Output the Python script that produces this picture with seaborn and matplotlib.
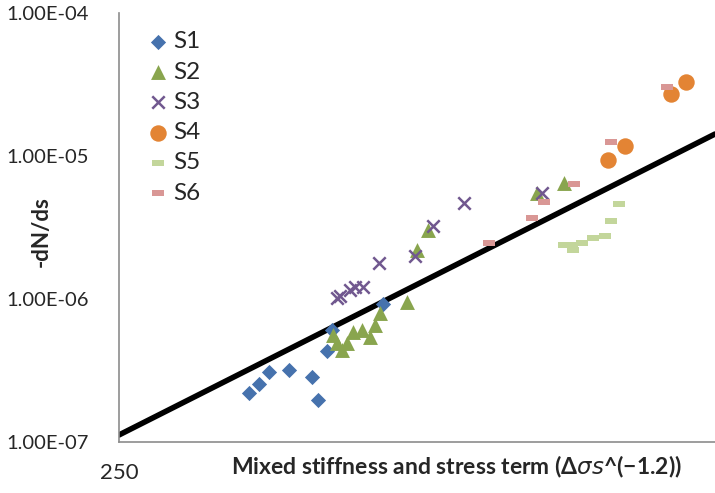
import numpy as np
import pandas as pd
import matplotlib
matplotlib.use("Agg")
import matplotlib.pyplot as plt
from matplotlib.path import Path
from matplotlib.ticker import FixedLocator, NullLocator
import seaborn as sns

# ---- data ----
s1_x = [338, 346, 354, 371, 392, 397, 406, 410, 462]
s1_y = [2.20e-7, 2.54e-7, 3.09e-7, 3.19e-7, 2.85e-7, 1.97e-7, 4.33e-7, 6.07e-7, 9.23e-7]

s2_x = [411, 415, 420, 425, 431, 440, 448, 453, 459, 488, 500, 513, 661, 704]
s2_y = [5.60e-7, 4.92e-7, 4.40e-7, 4.92e-7, 5.88e-7, 6.07e-7, 5.42e-7, 6.58e-7,
        7.98e-7, 9.53e-7, 2.20e-6, 3.04e-6, 5.51e-6, 6.48e-6]

s3_x = [415, 418, 428, 433, 441, 458, 498, 519, 558, 669]
s3_y = [1.02e-6, 1.05e-6, 1.16e-6, 1.21e-6, 1.21e-6, 1.79e-6, 2.00e-6, 3.24e-6, 4.69e-6, 5.51e-6]

s4_x = [780, 811, 903, 935]
s4_y = [9.38e-6, 1.17e-5, 2.71e-5, 3.29e-5]

s5_x = [704, 717, 719, 734, 753, 774, 785, 800]
s5_y = [2.39e-6, 2.39e-6, 2.20e-6, 2.46e-6, 2.67e-6, 2.76e-6, 3.51e-6, 4.62e-6]

s6_x = [591, 653, 672, 720, 785, 894]
s6_y = [2.46e-6, 3.69e-6, 4.77e-6, 6.37e-6, 1.25e-5, 3.04e-5]

trend_x = [250, 1000]
trend_y = [1.12e-7, 1.425e-5]

series_names = ["S1", "S2", "S3", "S4", "S5", "S6"]
y_ticks = [1e-7, 1e-6, 1e-5, 1e-4]
y_tick_labels = ["1.00E-07", "1.00E-06", "1.00E-05", "1.00E-04"]
x_ticks = [250]
x_tick_labels = ["250"]

# ---- build long table ----
xs = [s1_x, s2_x, s3_x, s4_x, s5_x, s6_x]
ys = [s1_y, s2_y, s3_y, s4_y, s5_y, s6_y]
frames = [pd.DataFrame({"x": x, "y": y, "series": n}) for x, y, n in zip(xs, ys, series_names)]
df = pd.concat(frames, ignore_index=True)
trend = pd.DataFrame({"x": trend_x, "y": trend_y})

sns.set_theme(style="white")
plt.rcParams["font.family"] = ["Lato", "DejaVu Sans"]
plt.rcParams["mathtext.fontset"] = "dejavusans"

fig = plt.figure(figsize=(7.15, 4.93), dpi=100)
ax = fig.add_axes([0.1664, 0.1034, 0.8336, 0.8702])

dash = Path([(-1.2, -0.5), (1.2, -0.5), (1.2, 0.5), (-1.2, 0.5), (-1.2, -0.5)],
            [Path.MOVETO, Path.LINETO, Path.LINETO, Path.LINETO, Path.CLOSEPOLY])

palette = {"S1": "#4672AD", "S2": "#89A54E", "S3": "#71588F",
           "S4": "#E38434", "S5": "#C3D69B", "S6": "#D99795"}
markers = {"S1": "D", "S2": "^", "S3": "x", "S4": "o", "S5": dash, "S6": dash}
sizes = {"S1": 60, "S2": 115, "S3": 80, "S4": 140, "S5": 85, "S6": 85}

# trend line first (behind markers)
sns.lineplot(data=trend, x="x", y="y", ax=ax, color="black", linewidth=4, legend=False, zorder=1)

for name in series_names:
    sub = df[df["series"] == name]
    lw = 1.8 if name == "S3" else 0
    sns.scatterplot(data=sub, x="x", y="y", ax=ax, marker=markers[name], s=sizes[name],
                    color=palette[name], linewidth=lw, edgecolor=palette[name] if name != "S3" else None,
                    label=name, zorder=3)

ax.set_xscale("log")
ax.set_yscale("log")
ax.set_xlim(250, 1000)
ax.set_ylim(1e-7, 1e-4)

ax.xaxis.set_major_locator(FixedLocator(x_ticks))
ax.xaxis.set_minor_locator(NullLocator())
ax.set_xticklabels(x_tick_labels)
ax.yaxis.set_major_locator(FixedLocator(y_ticks))
ax.yaxis.set_minor_locator(NullLocator())
ax.set_yticklabels(y_tick_labels)
ax.tick_params(axis="y", length=0, pad=22, labelsize=14.5)
ax.tick_params(axis="x", length=0, pad=15, labelsize=16)

for side in ["top", "right"]:
    ax.spines[side].set_visible(False)
for side in ["left", "bottom"]:
    ax.spines[side].set_color("#8c8c8c")
    ax.spines[side].set_linewidth(1.2)

ax.set_xlabel("")
ax.set_ylabel("")
fig.text(0.057, 0.53, "-dN/ds", rotation=90, ha="center", va="center",
         fontsize=16, fontweight="bold")
fig.text(0.638, 0.053, r"Mixed stiffness and stress term (Δ$\mathit{\sigma s}$^(−1.2))",
         ha="center", va="center", fontsize=16.5, fontweight="bold")

leg = ax.legend(loc="upper left", bbox_to_anchor=(0.025, 0.98), frameon=False,
                fontsize=17.5, handletextpad=0.0, labelspacing=0.38, borderaxespad=0,
                handlelength=1.2)

fig.savefig("out.png", dpi=100)
